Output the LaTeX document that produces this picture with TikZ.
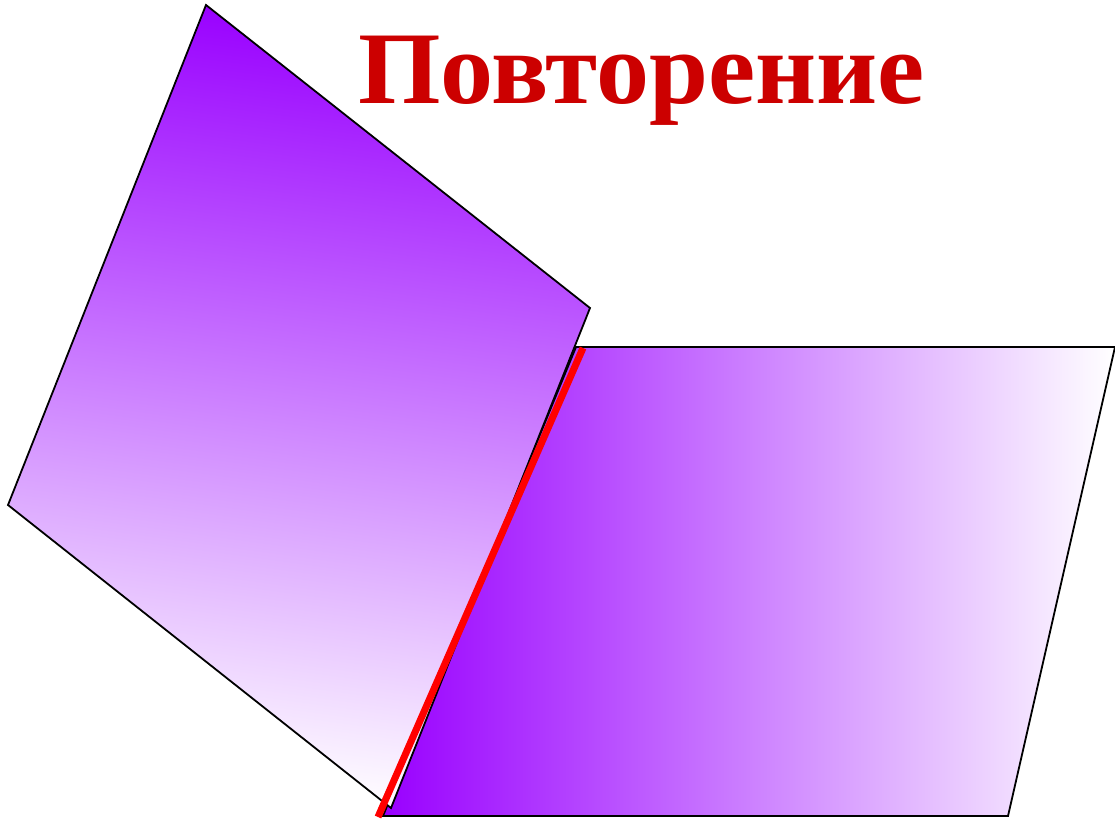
\documentclass[tikz,border=0pt]{standalone}
\usepackage{fontspec}
\setmainfont{Liberation Serif}
\definecolor{vio}{RGB}{153,0,255}
\definecolor{titlered}{RGB}{204,0,0}
\begin{document}
\begin{tikzpicture}[x=1pt,y=-1pt,
  edge/.style={draw=black,line width=1.8pt,line join=miter},
  title/.style={text=titlered,font=\bfseries\fontsize{103}{110}\selectfont,inner sep=0pt,anchor=base west}]
\useasboundingbox (0,0) rectangle (1115,819);
% left parallelogram
\coordinate (LT) at (206,5);
\coordinate (LR) at (590,308);
\coordinate (LB) at (391,808);
\coordinate (LL) at (8,505);
% right parallelogram
\coordinate (RTL) at (576,347);
\coordinate (RTR) at (1115,347);
\coordinate (RBR) at (1008,816);
\coordinate (RBL) at (383,816);
% red segment ends
\coordinate (A) at (378,817);
\coordinate (B) at (583,348);
\shadedraw[edge,left color=vio,right color=white] (RTL) -- (RTR) -- (RBR) -- (RBL) -- cycle;
\shadedraw[edge,top color=vio,bottom color=white,shading angle=-7.8] (LT) -- (LR) -- (LB) -- (LL) -- cycle;
\draw[red,line width=7pt] (A) -- (B);
\node[title] (T) at (358,103) {\scalebox{1.03}[1]{Повторение}};
\end{tikzpicture}
\end{document}
